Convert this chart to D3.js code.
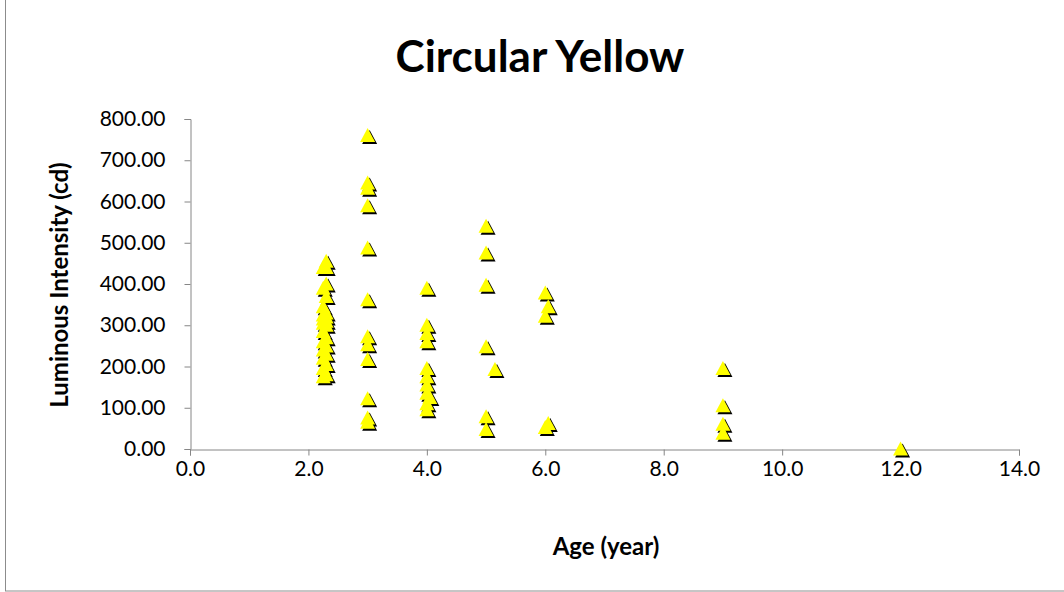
<!DOCTYPE html>
<html>
<head>
<meta charset="utf-8">
<script src="https://cdn.jsdelivr.net/npm/d3@7"></script>
<style>
  body { margin: 0; background: #fff; }
  svg, svg text { font-family: Lato, "Open Sans", sans-serif; }
</style>
</head>
<body>
<div id="chart"></div>
<script>
// data: age (year) and luminous intensity (cd)
var ages = [
  2.3, 2.3, 2.3, 2.3, 2.3, 2.3, 2.3, 2.3, 2.3, 2.3, 2.3, 2.3, 2.3,
  2.25, 2.25, 2.25, 2.25, 2.25, 2.25, 2.25, 2.25, 2.25, 2.25, 2.25, 2.25,
  3, 3, 3, 3, 3, 3, 3, 3, 3, 3, 3, 3,
  4, 4, 4, 4, 4, 4, 4, 4, 4.05, 4, 4,
  5, 5, 5, 5, 5.15, 5, 5,
  6, 6.05, 6, 6.05, 6,
  9, 9, 9, 9,
  12
];
var intensity = [
  455, 440, 400, 370, 330, 320, 310, 300, 270, 250, 230, 205, 180,
  440, 390, 345, 325, 315, 305, 285, 260, 240, 220, 195, 175,
  760, 645, 632, 590, 487, 362, 272, 253, 217, 122, 75, 65,
  390, 300, 280, 260, 195, 175, 155, 135, 125, 110, 95,
  540, 475, 397, 248, 193, 78, 47,
  378, 345, 322, 62, 52,
  195, 105, 60, 38,
  0
];
var xTicks = [0, 2, 4, 6, 8, 10, 12, 14];
var yTicks = [0, 100, 200, 300, 400, 500, 600, 700, 800];

var W = 1064, H = 592;
var svg = d3.select("#chart").append("svg")
  .attr("width", W)
  .attr("height", H);

// chart frame
svg.append("rect")
  .attr("x", 5.5).attr("y", -1)
  .attr("width", 1070).attr("height", 592)
  .attr("fill", "#fff")
  .attr("stroke", "#8c8c8c")
  .attr("stroke-width", 1);

var x = d3.scaleLinear().domain([0, 14]).range([190, 1019]);
var y = d3.scaleLinear().domain([0, 800]).range([449, 119]);

var xAxis = svg.append("g")
  .attr("transform", "translate(0,449.5)")
  .call(d3.axisBottom(x).tickValues(xTicks).tickSize(6).tickPadding(6)
    .tickFormat(d3.format(".1f")));

var yAxis = svg.append("g")
  .attr("transform", "translate(190.5,0)")
  .call(d3.axisLeft(y).tickValues(yTicks).tickSize(6).tickPadding(19)
    .tickFormat(d3.format(".2f")));

[xAxis, yAxis].forEach(function(g) {
  g.attr("font-family", null).attr("font-size", null);
  g.select(".domain").attr("stroke", "#868686");
  g.selectAll(".tick line").attr("stroke", "#868686");
  g.selectAll("text")
    .attr("fill", "#000")
    .style("font-size", "21px");
});

// triangle markers with the dark shadow on the lower right
function tri(d) {
  var cx = x(d[0]), cy = y(d[1]);
  return "M" + cx + "," + (cy - 7.5) + "L" + (cx + 7.5) + "," + (cy + 6.5) +
    "L" + (cx - 7.5) + "," + (cy + 6.5) + "Z";
}
var pts = ages.map(function(a, i) { return [a, intensity[i]]; });

svg.append("g").selectAll("path.shadow")
  .data(pts)
  .enter().append("path")
  .attr("class", "shadow")
  .attr("d", tri)
  .attr("transform", "translate(2,2)")
  .attr("fill", "#000");

svg.append("g").selectAll("path.mark")
  .data(pts)
  .enter().append("path")
  .attr("class", "mark")
  .attr("d", tri)
  .attr("fill", "#ffff00");

// titles
svg.append("text")
  .attr("x", 540).attr("y", 72)
  .attr("text-anchor", "middle")
  .style("font-size", "44px")
  .style("font-weight", "bold")
  .text("Circular Yellow");

svg.append("text")
  .attr("x", 606).attr("y", 555)
  .attr("text-anchor", "middle")
  .style("font-size", "24px")
  .style("font-weight", "bold")
  .text("Age (year)");

svg.append("text")
  .attr("transform", "translate(68,285) rotate(-90)")
  .attr("text-anchor", "middle")
  .style("font-size", "24px")
  .style("font-weight", "bold")
  .text("Luminous Intensity (cd)");
</script>
</body>
</html>
